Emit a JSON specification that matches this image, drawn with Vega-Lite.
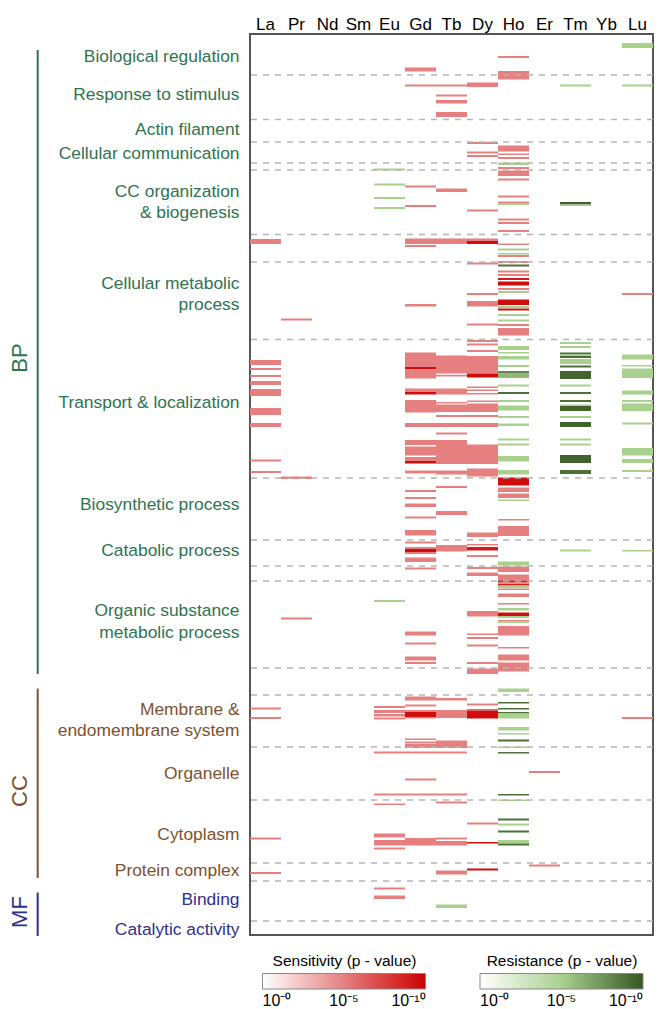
{
"$schema": "https://vega.github.io/schema/vega-lite/v6.json",
"padding": {"left": 0, "top": 14, "right": 9, "bottom": 0},
"background": "white",
"config": {"font": "Liberation Sans", "view": {"stroke": null}},
"spacing": 0,
"bounds": "flush",
"resolve": {"scale": {"color": "independent"}},
"datasets": {
"bars": [
{"c":"La","a":237,"b":242,"t":"s","v":5},{"c":"La","a":358,"b":363,"t":"s","v":5},{"c":"La","a":366,"b":368,"t":"s","v":5},{"c":"La","a":373,"b":375,"t":"s","v":5},{"c":"La","a":379,"b":383,"t":"s","v":5},{"c":"La","a":387,"b":394,"t":"s","v":5},{"c":"La","a":406,"b":413,"t":"s","v":5},{"c":"La","a":421,"b":425,"t":"s","v":5},{"c":"La","a":457.5,"b":459.5,"t":"s","v":5},{"c":"La","a":469,"b":471,"t":"s","v":5},{"c":"La","a":705.5,"b":707.5,"t":"s","v":5},{"c":"La","a":715,"b":717,"t":"s","v":5},{"c":"La","a":835.5,"b":837.5,"t":"s","v":5},{"c":"La","a":870,"b":872,"t":"s","v":5},
{"c":"Pr","a":316.5,"b":318.5,"t":"s","v":5},{"c":"Pr","a":474.5,"b":477,"t":"s","v":5},{"c":"Pr","a":615.5,"b":617.5,"t":"s","v":5},
{"c":"Eu","a":166.5,"b":168.5,"t":"r","v":5},{"c":"Eu","a":181.5,"b":183.5,"t":"r","v":5},{"c":"Eu","a":195,"b":197,"t":"r","v":5},{"c":"Eu","a":205,"b":207,"t":"r","v":5},{"c":"Eu","a":598,"b":600,"t":"r","v":5},
{"c":"Eu","a":704,"b":706,"t":"s","v":5},{"c":"Eu","a":708,"b":711,"t":"s","v":5},{"c":"Eu","a":712,"b":714.5,"t":"s","v":5},{"c":"Eu","a":715.5,"b":717.5,"t":"s","v":5},{"c":"Eu","a":749.5,"b":751.5,"t":"s","v":5},{"c":"Eu","a":791.5,"b":793.5,"t":"s","v":5},{"c":"Eu","a":801.5,"b":803,"t":"s","v":5},{"c":"Eu","a":831.5,"b":835.5,"t":"s","v":5},{"c":"Eu","a":838,"b":843.5,"t":"s","v":5},{"c":"Eu","a":845.5,"b":847.5,"t":"s","v":5},{"c":"Eu","a":885.5,"b":887.5,"t":"s","v":5},{"c":"Eu","a":893.5,"b":897,"t":"s","v":5},
{"c":"Gd","a":65.5,"b":69.5,"t":"s","v":5},{"c":"Gd","a":82.5,"b":84.5,"t":"s","v":5},{"c":"Gd","a":183.5,"b":185.5,"t":"s","v":5},{"c":"Gd","a":203,"b":205,"t":"s","v":5},{"c":"Gd","a":236.5,"b":242,"t":"s","v":5},{"c":"Gd","a":243,"b":245,"t":"s","v":5},{"c":"Gd","a":302,"b":304.5,"t":"s","v":5},{"c":"Gd","a":350.5,"b":365,"t":"s","v":5},{"c":"Gd","a":365,"b":367,"t":"s","v":9.5},{"c":"Gd","a":367,"b":376.5,"t":"s","v":5},{"c":"Gd","a":386.5,"b":390,"t":"s","v":5},{"c":"Gd","a":390,"b":392.5,"t":"s","v":9.5},{"c":"Gd","a":398,"b":410.5,"t":"s","v":5},{"c":"Gd","a":421,"b":425,"t":"s","v":5},{"c":"Gd","a":438,"b":443,"t":"s","v":5},{"c":"Gd","a":444.5,"b":453.5,"t":"s","v":5},{"c":"Gd","a":455,"b":458,"t":"s","v":5},{"c":"Gd","a":458.5,"b":461.5,"t":"s","v":9.5},{"c":"Gd","a":468.5,"b":471.5,"t":"s","v":5},{"c":"Gd","a":488,"b":490,"t":"s","v":5},{"c":"Gd","a":495,"b":497,"t":"s","v":5},{"c":"Gd","a":501.5,"b":505,"t":"s","v":5},{"c":"Gd","a":514.5,"b":516.5,"t":"s","v":5},{"c":"Gd","a":528,"b":533.5,"t":"s","v":5},{"c":"Gd","a":539.5,"b":541.5,"t":"s","v":5},{"c":"Gd","a":545,"b":547,"t":"s","v":5},{"c":"Gd","a":547,"b":550,"t":"s","v":9.5},{"c":"Gd","a":550,"b":552,"t":"s","v":5},{"c":"Gd","a":555.5,"b":560,"t":"s","v":5},{"c":"Gd","a":565.5,"b":567.5,"t":"s","v":5},{"c":"Gd","a":629.5,"b":633.5,"t":"s","v":5},{"c":"Gd","a":640.5,"b":642.5,"t":"s","v":5},{"c":"Gd","a":654.5,"b":658.5,"t":"s","v":5},{"c":"Gd","a":660,"b":662,"t":"s","v":5},{"c":"Gd","a":694.5,"b":698.5,"t":"s","v":5},{"c":"Gd","a":702.5,"b":704.5,"t":"s","v":5},{"c":"Gd","a":708,"b":710,"t":"s","v":5},{"c":"Gd","a":710,"b":715,"t":"s","v":9.5},{"c":"Gd","a":715,"b":716.5,"t":"s","v":5},{"c":"Gd","a":736.5,"b":738,"t":"s","v":5},{"c":"Gd","a":739.5,"b":741,"t":"s","v":5},{"c":"Gd","a":741.5,"b":746,"t":"s","v":5},{"c":"Gd","a":749.5,"b":751.5,"t":"s","v":5},{"c":"Gd","a":776.5,"b":778.5,"t":"s","v":5},{"c":"Gd","a":791.5,"b":793.5,"t":"s","v":5},{"c":"Gd","a":836,"b":843.5,"t":"s","v":5},
{"c":"Tb","a":82.5,"b":84.5,"t":"s","v":5},{"c":"Tb","a":92.5,"b":94.5,"t":"s","v":5},{"c":"Tb","a":98,"b":101.5,"t":"s","v":5},{"c":"Tb","a":110,"b":115,"t":"s","v":5},{"c":"Tb","a":186.5,"b":190,"t":"s","v":5},{"c":"Tb","a":236.5,"b":242,"t":"s","v":5},{"c":"Tb","a":353.5,"b":371.5,"t":"s","v":5},{"c":"Tb","a":372.8,"b":374.5,"t":"s","v":5},{"c":"Tb","a":386.5,"b":392.5,"t":"s","v":5},{"c":"Tb","a":400,"b":401.5,"t":"s","v":5},{"c":"Tb","a":402.5,"b":410,"t":"s","v":5},{"c":"Tb","a":413,"b":415,"t":"s","v":5},{"c":"Tb","a":421,"b":425,"t":"s","v":5},{"c":"Tb","a":430.5,"b":432.5,"t":"s","v":5},{"c":"Tb","a":438,"b":462,"t":"s","v":5},{"c":"Tb","a":468.5,"b":472.5,"t":"s","v":5},{"c":"Tb","a":484,"b":486,"t":"s","v":5},{"c":"Tb","a":509,"b":513,"t":"s","v":5},{"c":"Tb","a":543,"b":549.5,"t":"s","v":5},{"c":"Tb","a":696,"b":698.5,"t":"s","v":5},{"c":"Tb","a":708,"b":716,"t":"s","v":5},{"c":"Tb","a":738.5,"b":746,"t":"s","v":5},{"c":"Tb","a":749.5,"b":751.5,"t":"s","v":5},{"c":"Tb","a":791.5,"b":793.5,"t":"s","v":5},{"c":"Tb","a":799.5,"b":801.5,"t":"s","v":5},{"c":"Tb","a":835.5,"b":837.5,"t":"s","v":5},{"c":"Tb","a":839,"b":843.5,"t":"s","v":5},{"c":"Tb","a":868.5,"b":872.5,"t":"s","v":5},{"c":"Tb","a":902.5,"b":906,"t":"r","v":5},
{"c":"Dy","a":80.5,"b":85,"t":"s","v":5},{"c":"Dy","a":140,"b":142,"t":"s","v":5},{"c":"Dy","a":149.5,"b":151.5,"t":"s","v":5},{"c":"Dy","a":153,"b":155,"t":"s","v":5},{"c":"Dy","a":207.5,"b":209.5,"t":"s","v":5},{"c":"Dy","a":236.5,"b":239,"t":"s","v":5},{"c":"Dy","a":239,"b":242,"t":"s","v":9.5},{"c":"Dy","a":260.5,"b":262.5,"t":"s","v":5},{"c":"Dy","a":291,"b":293,"t":"s","v":5},{"c":"Dy","a":299,"b":304.5,"t":"s","v":5},{"c":"Dy","a":321.5,"b":323.5,"t":"s","v":5},{"c":"Dy","a":338,"b":340,"t":"s","v":5},{"c":"Dy","a":341.5,"b":343.5,"t":"s","v":5},{"c":"Dy","a":348,"b":350,"t":"s","v":5},{"c":"Dy","a":354,"b":371.5,"t":"s","v":5},{"c":"Dy","a":371.5,"b":375.5,"t":"s","v":9.5},{"c":"Dy","a":384.5,"b":386,"t":"s","v":5},{"c":"Dy","a":387.5,"b":389,"t":"s","v":5},{"c":"Dy","a":391,"b":392.5,"t":"s","v":5},{"c":"Dy","a":398.5,"b":400,"t":"s","v":5},{"c":"Dy","a":401.5,"b":410,"t":"s","v":5},{"c":"Dy","a":413,"b":415,"t":"s","v":5},{"c":"Dy","a":421,"b":425,"t":"s","v":5},{"c":"Dy","a":442.5,"b":462,"t":"s","v":5},{"c":"Dy","a":466.5,"b":474.5,"t":"s","v":5},{"c":"Dy","a":530.5,"b":535,"t":"s","v":5},{"c":"Dy","a":542,"b":543.5,"t":"s","v":5},{"c":"Dy","a":545,"b":548.5,"t":"s","v":9},{"c":"Dy","a":553,"b":555,"t":"s","v":5},{"c":"Dy","a":565,"b":567,"t":"s","v":5},{"c":"Dy","a":570.5,"b":574,"t":"s","v":5},{"c":"Dy","a":609,"b":614.5,"t":"s","v":5},{"c":"Dy","a":631.5,"b":633,"t":"s","v":5},{"c":"Dy","a":635,"b":637,"t":"s","v":5},{"c":"Dy","a":642.5,"b":644.5,"t":"s","v":5},{"c":"Dy","a":660,"b":662,"t":"s","v":5},{"c":"Dy","a":666.5,"b":672,"t":"s","v":5},{"c":"Dy","a":701.5,"b":703.5,"t":"s","v":5},{"c":"Dy","a":707,"b":709,"t":"s","v":6},{"c":"Dy","a":709,"b":716.5,"t":"s","v":9.5},{"c":"Dy","a":820.5,"b":822.5,"t":"s","v":5},{"c":"Dy","a":840,"b":841.5,"t":"s","v":9.5},{"c":"Dy","a":866.5,"b":868.5,"t":"s","v":9.5},
{"c":"Ho","a":54,"b":56,"t":"s","v":5},{"c":"Ho","a":69,"b":77.5,"t":"s","v":5},{"c":"Ho","a":143.5,"b":149.5,"t":"s","v":5},{"c":"Ho","a":151.5,"b":153,"t":"s","v":5},{"c":"Ho","a":155,"b":157,"t":"s","v":5},{"c":"Ho","a":160.5,"b":163,"t":"r","v":5},{"c":"Ho","a":165,"b":167,"t":"s","v":5},{"c":"Ho","a":168.5,"b":174,"t":"s","v":5},{"c":"Ho","a":176.5,"b":178.5,"t":"s","v":5},{"c":"Ho","a":193.5,"b":195.5,"t":"s","v":5},{"c":"Ho","a":199.5,"b":201,"t":"s","v":5},{"c":"Ho","a":201,"b":203,"t":"r","v":5},{"c":"Ho","a":216.5,"b":218.5,"t":"s","v":5},{"c":"Ho","a":220,"b":222,"t":"s","v":5},{"c":"Ho","a":228,"b":230,"t":"s","v":5},{"c":"Ho","a":241.5,"b":243,"t":"s","v":5},{"c":"Ho","a":246.5,"b":248.5,"t":"r","v":5},{"c":"Ho","a":251,"b":252.5,"t":"r","v":5},{"c":"Ho","a":253,"b":255,"t":"s","v":5},{"c":"Ho","a":259,"b":261,"t":"s","v":5},{"c":"Ho","a":262.5,"b":264.5,"t":"r","v":9},{"c":"Ho","a":268.5,"b":270.5,"t":"s","v":5},{"c":"Ho","a":272,"b":274,"t":"s","v":5},{"c":"Ho","a":276,"b":278,"t":"s","v":9},{"c":"Ho","a":279.5,"b":283.5,"t":"s","v":9.5},{"c":"Ho","a":286,"b":288,"t":"s","v":5},{"c":"Ho","a":289,"b":291,"t":"r","v":5},{"c":"Ho","a":297.5,"b":303,"t":"s","v":9.5},{"c":"Ho","a":304,"b":306,"t":"r","v":5},{"c":"Ho","a":306.5,"b":308.5,"t":"s","v":9.5},{"c":"Ho","a":312,"b":314,"t":"r","v":5},{"c":"Ho","a":317.5,"b":319.5,"t":"r","v":5},{"c":"Ho","a":322,"b":324,"t":"s","v":5},{"c":"Ho","a":326,"b":333.5,"t":"s","v":5},{"c":"Ho","a":344,"b":348,"t":"r","v":5},{"c":"Ho","a":350,"b":351.5,"t":"r","v":5},{"c":"Ho","a":354,"b":357.5,"t":"r","v":5},{"c":"Ho","a":363,"b":365,"t":"r","v":5},{"c":"Ho","a":369,"b":371,"t":"r","v":8},{"c":"Ho","a":371,"b":376,"t":"r","v":6},{"c":"Ho","a":382.5,"b":384.5,"t":"r","v":5},{"c":"Ho","a":390,"b":392,"t":"r","v":9},{"c":"Ho","a":398,"b":400,"t":"r","v":5},{"c":"Ho","a":403.5,"b":408.5,"t":"r","v":5},{"c":"Ho","a":414,"b":416,"t":"r","v":5},{"c":"Ho","a":421.5,"b":424,"t":"r","v":5},{"c":"Ho","a":436.5,"b":438.5,"t":"r","v":5},{"c":"Ho","a":441.5,"b":443.5,"t":"r","v":5},{"c":"Ho","a":454,"b":459.5,"t":"r","v":5},{"c":"Ho","a":468,"b":472.5,"t":"r","v":5},{"c":"Ho","a":475.5,"b":483.5,"t":"s","v":9.5},{"c":"Ho","a":485.5,"b":490,"t":"s","v":5},{"c":"Ho","a":491.5,"b":496,"t":"s","v":5},{"c":"Ho","a":497.5,"b":499,"t":"r","v":5},{"c":"Ho","a":517,"b":518.5,"t":"s","v":5},{"c":"Ho","a":524,"b":534,"t":"s","v":5},{"c":"Ho","a":559.5,"b":563.5,"t":"r","v":5},{"c":"Ho","a":564.5,"b":570,"t":"s","v":5},{"c":"Ho","a":572.5,"b":578.5,"t":"s","v":5},{"c":"Ho","a":578.5,"b":580.5,"t":"s","v":9},{"c":"Ho","a":581.5,"b":583.5,"t":"s","v":9},{"c":"Ho","a":584,"b":586,"t":"r","v":5},{"c":"Ho","a":586.5,"b":588,"t":"s","v":5},{"c":"Ho","a":591.5,"b":595,"t":"s","v":5},{"c":"Ho","a":601,"b":602.5,"t":"s","v":5},{"c":"Ho","a":606,"b":608.5,"t":"r","v":5},{"c":"Ho","a":610.5,"b":614,"t":"s","v":9.5},{"c":"Ho","a":614,"b":616,"t":"r","v":5},{"c":"Ho","a":618,"b":619.5,"t":"s","v":5},{"c":"Ho","a":619.5,"b":621,"t":"r","v":5},{"c":"Ho","a":624,"b":633.5,"t":"s","v":5},{"c":"Ho","a":645,"b":646.5,"t":"s","v":5},{"c":"Ho","a":652.5,"b":658.5,"t":"s","v":5},{"c":"Ho","a":660.5,"b":669.5,"t":"s","v":5},{"c":"Ho","a":686.5,"b":690,"t":"r","v":5},{"c":"Ho","a":700,"b":701.5,"t":"r","v":9},{"c":"Ho","a":706,"b":707.5,"t":"r","v":9},{"c":"Ho","a":710,"b":711.5,"t":"r","v":9},{"c":"Ho","a":711.5,"b":716.5,"t":"r","v":5},{"c":"Ho","a":725,"b":728.5,"t":"r","v":5},{"c":"Ho","a":731,"b":732.5,"t":"r","v":5},{"c":"Ho","a":737.5,"b":739.5,"t":"r","v":9},{"c":"Ho","a":744.5,"b":746,"t":"r","v":5},{"c":"Ho","a":750,"b":751.5,"t":"r","v":9},{"c":"Ho","a":792,"b":793.5,"t":"r","v":9},{"c":"Ho","a":797.5,"b":799,"t":"r","v":5},{"c":"Ho","a":816.5,"b":818.5,"t":"r","v":9},{"c":"Ho","a":821.5,"b":823.5,"t":"r","v":5},{"c":"Ho","a":828.5,"b":830.5,"t":"r","v":9},{"c":"Ho","a":838,"b":841.5,"t":"r","v":5},{"c":"Ho","a":841.5,"b":843.5,"t":"r","v":9},
{"c":"Er","a":769,"b":771,"t":"s","v":5},{"c":"Er","a":862.5,"b":864.5,"t":"s","v":5},
{"c":"Tm","a":82.5,"b":84.5,"t":"r","v":5},{"c":"Tm","a":200,"b":202.5,"t":"r","v":9.5},{"c":"Tm","a":202.5,"b":204,"t":"r","v":5},{"c":"Tm","a":340,"b":342,"t":"r","v":5},{"c":"Tm","a":344,"b":346,"t":"r","v":5},{"c":"Tm","a":350.5,"b":352.5,"t":"r","v":9},{"c":"Tm","a":352.5,"b":354,"t":"r","v":5},{"c":"Tm","a":354,"b":356,"t":"r","v":9},{"c":"Tm","a":357,"b":362,"t":"r","v":5},{"c":"Tm","a":363.5,"b":365.5,"t":"r","v":9},{"c":"Tm","a":369,"b":377,"t":"r","v":9.5},{"c":"Tm","a":382.5,"b":384.5,"t":"r","v":5},{"c":"Tm","a":390,"b":392,"t":"r","v":9},{"c":"Tm","a":398,"b":400,"t":"r","v":9},{"c":"Tm","a":402.5,"b":404,"t":"r","v":5},{"c":"Tm","a":404,"b":409,"t":"r","v":9.5},{"c":"Tm","a":414,"b":416,"t":"r","v":5},{"c":"Tm","a":420,"b":425,"t":"r","v":9.5},{"c":"Tm","a":436.5,"b":438.5,"t":"r","v":5},{"c":"Tm","a":441.5,"b":443.5,"t":"r","v":5},{"c":"Tm","a":453,"b":461,"t":"r","v":9.5},{"c":"Tm","a":468,"b":472,"t":"r","v":9},{"c":"Tm","a":547.5,"b":549.5,"t":"r","v":5},
{"c":"Lu","a":41,"b":46,"t":"r","v":5},{"c":"Lu","a":82.5,"b":84.5,"t":"r","v":5},{"c":"Lu","a":291,"b":293,"t":"s","v":5},{"c":"Lu","a":352.5,"b":357.5,"t":"r","v":5},{"c":"Lu","a":363,"b":364.5,"t":"r","v":5},{"c":"Lu","a":366.5,"b":376,"t":"r","v":5},{"c":"Lu","a":388.5,"b":392.5,"t":"r","v":5},{"c":"Lu","a":398,"b":400,"t":"r","v":5},{"c":"Lu","a":401.5,"b":409,"t":"r","v":5},{"c":"Lu","a":420.5,"b":422.5,"t":"r","v":5},{"c":"Lu","a":446,"b":453.5,"t":"r","v":5},{"c":"Lu","a":457,"b":461,"t":"r","v":5},{"c":"Lu","a":468,"b":470,"t":"r","v":5},{"c":"Lu","a":548,"b":549.5,"t":"r","v":5},{"c":"Lu","a":715,"b":717,"t":"s","v":5}
],
"seps": [{"s":73},{"s":117.5},{"s":140},{"s":161},{"s":168},{"s":232.5},{"s":260},{"s":337.5},{"s":476},{"s":538},{"s":564},{"s":579},{"s":666},{"s":693},{"s":745},{"s":798},{"s":861},{"s":879},{"s":919}],
"labels": [
{"label":"Biological regulation","y":54.5,"grp":"BP"},{"label":"Response to stimulus","y":93,"grp":"BP"},{"label":"Actin filament","y":127.5,"grp":"BP"},{"label":"Cellular communication","y":151.5,"grp":"BP"},{"label":"CC organization","y":190,"grp":"BP"},{"label":"& biogenesis","y":210.5,"grp":"BP"},{"label":"Cellular metabolic","y":281.5,"grp":"BP"},{"label":"process","y":303,"grp":"BP"},{"label":"Transport & localization","y":400.5,"grp":"BP"},{"label":"Biosynthetic process","y":502.5,"grp":"BP"},{"label":"Catabolic process","y":548.5,"grp":"BP"},{"label":"Organic substance","y":608.5,"grp":"BP"},{"label":"metabolic process","y":630.5,"grp":"BP"},
{"label":"Membrane &\u00a0","y":708,"grp":"CC"},{"label":"endomembrane system","y":729,"grp":"CC"},{"label":"Organelle","y":771.5,"grp":"CC"},{"label":"Cytoplasm","y":833,"grp":"CC"},{"label":"Protein complex","y":869,"grp":"CC"},
{"label":"Binding","y":898,"grp":"MF"},{"label":"Catalytic activity","y":928,"grp":"MF"}
],
"groups": [{"grp":"BP","g0":48,"g1":672,"mid":356},{"grp":"CC","g0":686.5,"g1":876,"mid":789},{"grp":"MF","g0":890.5,"g1":934,"mid":910}]
},
"hconcat": [
{
"width": 250, "height": 901,
"layer": [
{"data": {"name": "groups"}, "mark": {"type": "rule", "strokeWidth": 2},
 "encoding": {
  "x": {"datum": 37.7, "type": "quantitative", "scale": {"domain": [0, 250], "nice": false, "zero": false}, "axis": null},
  "y": {"field": "g0", "type": "quantitative", "scale": {"domain": [32, 933], "reverse": true, "nice": false, "zero": false}, "axis": null},
  "y2": {"field": "g1"},
  "color": {"field": "grp", "type": "nominal", "scale": {"domain": ["BP","CC","MF"], "range": ["#2f7350","#7c5230","#30308a"]}, "legend": null}
 }},
{"data": {"name": "groups"}, "mark": {"type": "text", "angle": 270, "fontSize": 22, "align": "center", "baseline": "middle"},
 "encoding": {
  "x": {"datum": 20, "type": "quantitative"},
  "y": {"field": "mid", "type": "quantitative"},
  "text": {"field": "grp"},
  "color": {"field": "grp", "type": "nominal", "legend": null}
 }},
{"data": {"name": "labels"}, "mark": {"type": "text", "align": "right", "baseline": "middle", "fontSize": 17.4},
 "encoding": {
  "x": {"datum": 239.5, "type": "quantitative"},
  "y": {"field": "y", "type": "quantitative"},
  "text": {"field": "label"},
  "color": {"field": "grp", "type": "nominal", "legend": null}
 }}
]
},
{
"width": 403, "height": 901,
"view": {"stroke": "#555555", "strokeWidth": 2},
"data": {"name": "bars"},
"resolve": {"scale": {"color": "independent"}},
"layer": [
{"transform": [{"filter": "datum.t == 's'"}], "mark": {"type": "rect"},
 "encoding": {
  "x": {"field": "c", "type": "nominal", "scale": {"domain": ["La","Pr","Nd","Sm","Eu","Gd","Tb","Dy","Ho","Er","Tm","Yb","Lu"], "paddingInner": 0, "paddingOuter": 0},
        "axis": {"orient": "top", "title": null, "domain": false, "ticks": false, "labelAngle": 0, "labelFontSize": 17, "labelColor": "#000000", "labelPadding": 1}},
  "y": {"field": "a", "type": "quantitative", "scale": {"domain": [32, 933], "reverse": true, "nice": false, "zero": false}, "axis": null},
  "y2": {"field": "b"},
  "color": {"field": "v", "type": "quantitative", "scale": {"domain": [0, 10], "range": ["#ffffff", "#cc0000"], "interpolate": "rgb"},
   "legend": {"orient": "none", "legendX": 12.5, "legendY": 920, "direction": "horizontal", "title": "Sensitivity (p - value)", "titleFontSize": 15.5, "titleFontWeight": "normal", "titleColor": "#000000", "titleAnchor": "middle", "titlePadding": 4, "gradientLength": 163, "gradientThickness": 15.5, "gradientStrokeColor": "#888888", "gradientStrokeWidth": 1, "values": [0, 5, 10], "labelExpr": "datum.value == 0 ? '10⁻⁰' : datum.value == 5 ? '10⁻⁵' : '10⁻¹⁰'", "labelFontSize": 16, "labelColor": "#000000", "labelAlign": "center", "labelOffset": 4}}
 }},
{"transform": [{"filter": "datum.t == 'r'"}], "mark": {"type": "rect"},
 "encoding": {
  "x": {"field": "c", "type": "nominal"},
  "y": {"field": "a", "type": "quantitative"},
  "y2": {"field": "b"},
  "color": {"field": "v", "type": "quantitative", "scale": {"domain": [0, 5, 10], "range": ["#ffffff", "#a9d18e", "#375623"], "interpolate": "rgb"},
   "legend": {"orient": "none", "legendX": 230, "legendY": 920, "direction": "horizontal", "title": "Resistance (p - value)", "titleFontSize": 15.5, "titleFontWeight": "normal", "titleColor": "#000000", "titleAnchor": "middle", "titlePadding": 4, "gradientLength": 163, "gradientThickness": 15.5, "gradientStrokeColor": "#888888", "gradientStrokeWidth": 1, "values": [0, 5, 10], "labelExpr": "datum.value == 0 ? '10⁻⁰' : datum.value == 5 ? '10⁻⁵' : '10⁻¹⁰'", "labelFontSize": 16, "labelColor": "#000000", "labelAlign": "center", "labelOffset": 4}}
 }},
{"data": {"name": "seps"}, "mark": {"type": "rule", "color": "#b5b5b5", "strokeWidth": 1.5, "strokeDash": [6, 6]},
 "encoding": {"y": {"field": "s", "type": "quantitative"}}}
]
}
]
}
